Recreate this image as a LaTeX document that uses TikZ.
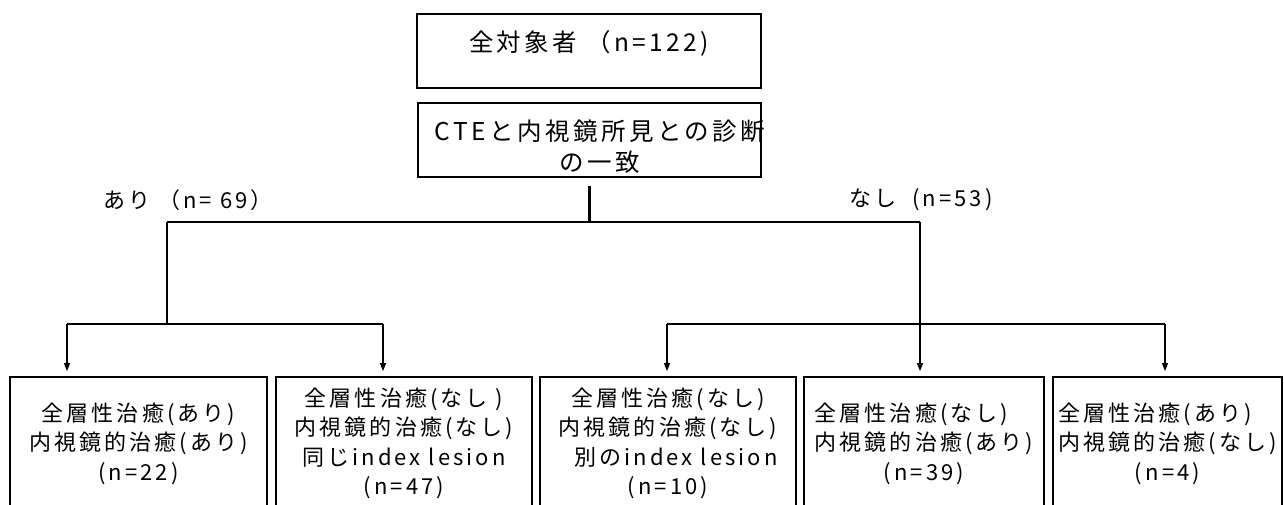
\documentclass[tikz,border=0pt]{standalone}
\usepackage{fontspec}
\setmainfont{Noto Sans CJK JP}[LetterSpace=14]
\usetikzlibrary{arrows.meta}
\tikzset{
  box/.style={draw, line width=1.8pt, rectangle, inner sep=0pt, align=center},
  bigtxt/.style={font=\fontsize{24.5}{31}\selectfont},
  smalltxt/.style={font=\fontsize{22}{29.5}\selectfont},
  bbox/.style={box, smalltxt, minimum height=133pt},
  conn/.style={line width=2.4pt},
  thinconn/.style={line width=1.8pt},
  arr/.style={line width=1.2pt, -{Triangle[length=8pt,width=6pt]}, shorten >=5pt},
  lab/.style={font=\fontsize{22}{26}\selectfont, inner sep=0pt},
}
\begin{document}
\begin{tikzpicture}[x=1pt,y=-1pt]
\useasboundingbox (0,0) rectangle (1284,504);
% top boxes
\node[box, bigtxt, minimum width=344pt, minimum height=74pt, text height=12pt, text depth=12pt] (all) at (589,51) {全対象者 （n=122)};
\node[box, minimum width=343pt, minimum height=74pt] (cte) at (589.5,140) {};
\node[bigtxt, align=center, inner sep=0pt] (ctet) at (600,147) {CTEと内視鏡所見との診断\\の一致};
% labels
\node[lab] (yes) at (188,200) {あり （n= 69）};
\node[lab] (no) at (921,200) {なし\ \ (n=53)};
% bottom boxes
\node[bbox, minimum width=257pt] (b1) at (138.5,443.5) {全層性治癒(あり)\\内視鏡的治癒(あり)\\(n=22)};
\node[bbox, minimum width=256pt] (b2) at (404,443.5) {全層性治癒(なし )\\内視鏡的治癒(なし)\\同じindex lesion\\(n=47)};
\node[bbox, minimum width=256pt] (b3) at (668,443.5) {全層性治癒(なし)\\内視鏡的治癒(なし)\\\ \ 別のindex lesion\\(n=10)};
\node[bbox, minimum width=240pt] (b4) at (924,443.5) {全層性治癒(なし)　\\内視鏡的治癒(あり)\\(n=39)};
\node[bbox, minimum width=229pt] (b5) at (1167.5,443.5) {全層性治癒(あり)　\\内視鏡的治癒(なし)\\(n=4)};
% junction coordinates
\coordinate (jL) at (167,222);
\coordinate (jR) at (920,222);
\coordinate (kL) at (167,324);
\coordinate (a1) at (67,324);
\coordinate (a2) at (383,324);
\coordinate (a3) at (667,324);
\coordinate (a4) at (920,324);
\coordinate (a5) at (1165,324);
% connectors
\draw[conn] ([yshift=-8pt]cte.south) -- (cte.south |- jL);
\draw[conn] (jL) -- (jR);
\draw[thinconn] (jL) -- (kL);
\draw[thinconn] (jR) -- (a4);
\draw[thinconn] (a1) -- (a2);
\draw[thinconn] (a3) -- (a5);
\draw[arr] (a1) -- (a1 |- b1.north);
\draw[arr] (a2) -- (a2 |- b2.north);
\draw[arr] (a3) -- (a3 |- b3.north);
\draw[arr] (a4) -- (a4 |- b4.north);
\draw[arr] (a5) -- (a5 |- b5.north);
\end{tikzpicture}
\end{document}
